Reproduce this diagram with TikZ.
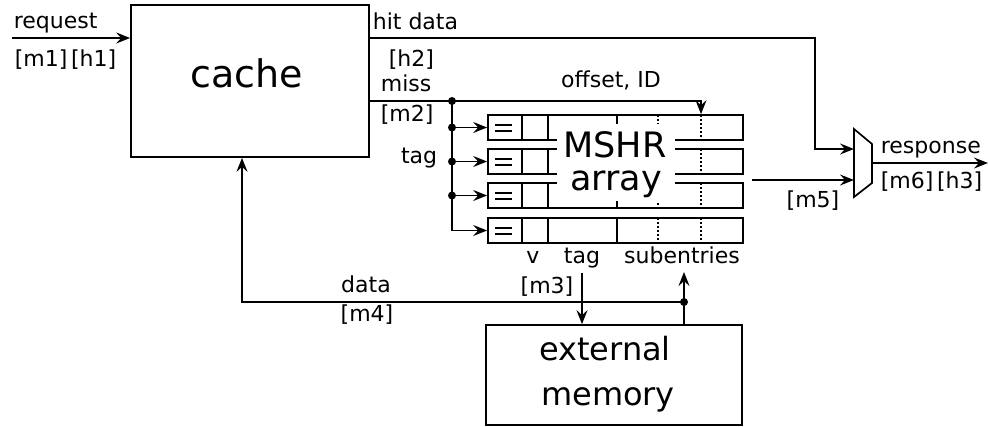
\documentclass[tikz,border=0pt]{standalone}
\usepackage{fontspec}
\setmainfont{DejaVu Sans}
\usetikzlibrary{arrows.meta}

\begin{document}
\begin{tikzpicture}[x=1pt, y=-1pt, line width=1.7pt,
  arr/.style={-{Stealth[length=14pt,width=11pt,inset=5pt]}},
  lbl/.style={font=\fontsize{22}{26}\selectfont, inner sep=0pt},
  big/.style={font=\fontsize{35}{40}\selectfont, inner sep=0pt, anchor=base},
  box/.style={draw, rectangle, inner sep=0pt},
  entry/.style={draw, rectangle, inner sep=0pt, minimum width=255pt, minimum height=25pt},
  junction/.style={circle, fill, inner sep=0pt, minimum size=8pt},
  subdiv/.style={dash pattern=on 2pt off 2pt}]

\useasboundingbox (0,0) rectangle (988,426);

% ---------------- cache ----------------
\node[box, minimum width=238pt, minimum height=152pt] (cache) at (250,81) {};
\node[big, font=\fontsize{38}{40}\selectfont] (cachetxt) at (247,87) {cache};

% ---------------- MSHR entries ----------------
\node[entry] (row1) at (615.5,127.5) {};
\node[entry] (row2) at (615.5,161.5) {};
\node[entry] (row3) at (615.5,195.5) {};
\node[entry] (row4) at (615.5,230.5) {};
\foreach \t in {115,149,183,218} {
  \draw (522,\t) -- (522,\t+25);
  \draw (548,\t) -- (548,\t+25);
  \draw (617,\t) -- (617,\t+25);
  \draw[subdiv] (658,\t) -- (658,\t+25);
  \draw[subdiv] (701,\t) -- (701,\t+25);
  % comparator sign
  \draw[line width=2.6pt] (495,\t+10) -- (512,\t+10) (495,\t+16) -- (512,\t+16);
}
\fill[white] (557,124) rectangle (675,201);
\node[big] (mshrtxt) at (615,157) {MSHR};
\node[big] (arraytxt) at (616,190) {array};

% ---------------- external memory ----------------
\node[box, minimum width=256pt, minimum height=100pt] (mem) at (614,375) {};
\node[big, font=\fontsize{32}{36}\selectfont] (memtxt1) at (605,360) {external};
\node[big, font=\fontsize{32}{36}\selectfont] (memtxt2) at (608,405) {memory};

% ---------------- multiplexer ----------------
\draw (854,129) -- (872,144) -- (872,183) -- (854,197) -- cycle;
\coordinate (muxin1) at (854,149);
\coordinate (muxin2) at (854,180);
\coordinate (muxout) at (872,163);

% ---------------- connectors ----------------
\coordinate (reqin) at (12,38);
\draw[arr] (reqin) -- (reqin -| cache.west);

\coordinate (hitout) at (369,38);
\coordinate (hitturn) at (815,149);
\draw[arr] (hitout) -| (hitturn) -- (muxin1);

\coordinate (missout) at (369,101);
\coordinate (offturn) at (701,101);
\draw[arr] (missout) -- (offturn) -- (offturn |- row1.north);

\node[junction] (j0) at (452,101) {};
\node[junction] (j1) at (452,127.5) {};
\node[junction] (j2) at (452,161.5) {};
\node[junction] (j3) at (452,195.5) {};
\draw[arr] (j0.center) |- (row4.west);
\draw[arr] (j1.center) -- (row1.west);
\draw[arr] (j2.center) -- (row2.west);
\draw[arr] (j3.center) -- (row3.west);

\coordinate (m5start) at (752,180);
\draw[arr] (m5start) -- (muxin2);

\coordinate (respend) at (988,163);
\draw[arr] (muxout) -- (respend);

\coordinate (tagout) at (582,273);
\draw[arr] (tagout) -- (tagout |- mem.north);

\node[junction] (memtap) at (684,302) {};
\coordinate (subin) at (684,272);
\draw[arr] (mem.north -| memtap) -- (subin);
\coordinate (datacorner) at (242,302);
\draw[arr] (memtap.center) -- (datacorner) -- (datacorner |- cache.south);

% ---------------- labels ----------------
\node[lbl, anchor=base west] (lreq) at (13,28) {request};
\node[lbl, anchor=base west] (lm1h1) at (14,66) {[m1]\,[h1]};
\node[lbl, anchor=base west] (lhit) at (372,29) {hit data};
\node[lbl, anchor=base west] (lh2) at (388,66) {[h2]};
\node[lbl, anchor=base west] (lmiss) at (380,91) {miss};
\node[lbl, anchor=base west] (lm2) at (380,121) {[m2]};
\node[lbl, anchor=base] (loff) at (611,87) {offset, ID};
\node[lbl, anchor=base east] (ltag) at (438,163) {tag};
\node[lbl, anchor=base] (lv) at (533,263) {v};
\node[lbl, anchor=base] (lfieldtag) at (582,263) {tag};
\node[lbl, anchor=base] (lsub) at (682,263) {subentries};
\node[lbl, anchor=base] (ldata) at (366,292) {data};
\node[lbl, anchor=base] (lm4) at (367,321) {[m4]};
\node[lbl, anchor=base] (lm3) at (547,293) {[m3]};
\node[lbl, anchor=base west] (lresp) at (880,153) {response};
\node[lbl, anchor=base west] (lm6h3) at (880,188) {[m6]\,[h3]};
\node[lbl, anchor=base] (lm5) at (813,207) {[m5]};

\end{tikzpicture}
\end{document}
